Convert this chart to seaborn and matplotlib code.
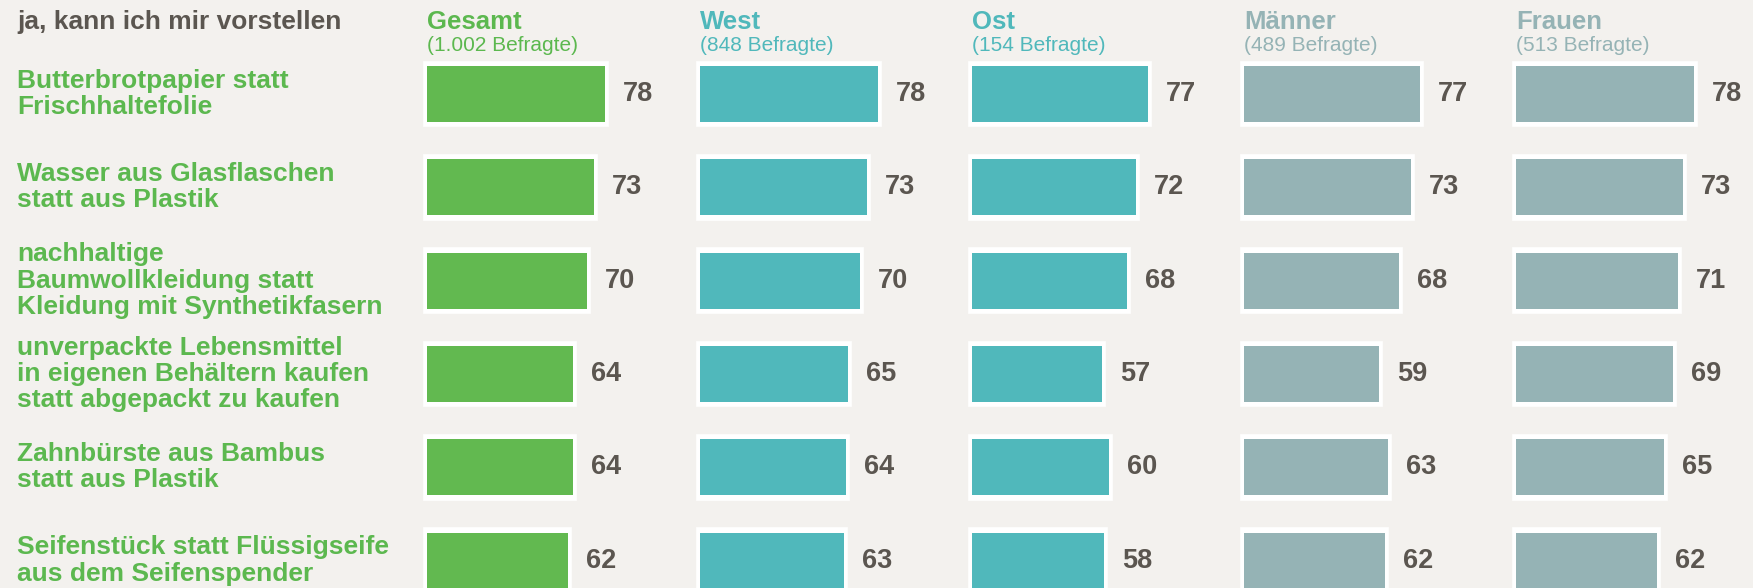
import matplotlib
matplotlib.use("Agg")
import matplotlib.pyplot as plt
import matplotlib.transforms as mtransforms
import seaborn as sns
import pandas as pd

# ---------------- data ----------------
categories = [
    "Butterbrotpapier statt\nFrischhaltefolie",
    "Wasser aus Glasflaschen\nstatt aus Plastik",
    "nachhaltige\nBaumwollkleidung statt\nKleidung mit Synthetikfasern",
    "unverpackte Lebensmittel\nin eigenen Behältern kaufen\nstatt abgepackt zu kaufen",
    "Zahnbürste aus Bambus\nstatt aus Plastik",
    "Seifenstück statt Flüssigseife\naus dem Seifenspender",
]
group_names = ["Gesamt", "West", "Ost", "Männer", "Frauen"]
group_sizes = ["(1.002 Befragte)", "(848 Befragte)", "(154 Befragte)",
               "(489 Befragte)", "(513 Befragte)"]
gesamt = [78, 73, 70, 64, 64, 62]
west = [78, 73, 70, 65, 64, 63]
ost = [77, 72, 68, 57, 60, 58]
maenner = [77, 73, 68, 59, 63, 62]
frauen = [78, 73, 71, 69, 65, 62]
header_text = "ja, kann ich mir vorstellen"

series = [gesamt, west, ost, maenner, frauen]

# ---------------- style ----------------
BG = "#f3f1ee"
GREEN = "#62b950"
LABEL_GREEN = "#5cb84f"
TEAL = "#50b8bb"
GREYTEAL = "#95b3b5"
DARK = "#5b5650"
bar_colors = [GREEN, TEAL, TEAL, GREYTEAL, GREYTEAL]
head_colors = [LABEL_GREEN, TEAL, TEAL, GREYTEAL, GREYTEAL]

sns.set_theme(style="white")
plt.rcParams["font.family"] = ["Liberation Sans", "DejaVu Sans"]

W, H = 1753, 588
fig = plt.figure(figsize=(W / 100, H / 100), dpi=100)
fig.patch.set_facecolor(BG)

PX_PER_UNIT = 2.282
ROW_PX = 93.3
ROW0_PX = 94.0
panel_left_px = [427, 700, 972, 1244, 1516]
PAD_PX = 10
AX_W_PX = 255

y_top = (0 - ROW0_PX) / ROW_PX
y_bot = (H - ROW0_PX) / ROW_PX

axes = []
for k, (vals, col) in enumerate(zip(series, bar_colors)):
    left_px = panel_left_px[k] - PAD_PX
    ax = fig.add_axes([left_px / W, 0, AX_W_PX / W, 1])
    ax.set_facecolor("none")
    df = pd.DataFrame({"cat": categories, "val": vals})
    # white frame layer
    sns.barplot(data=df, y="cat", x="val", orient="h", ax=ax, color="white",
                width=0.63, saturation=1, edgecolor="white", linewidth=5.5)
    # coloured bar layer
    sns.barplot(data=df, y="cat", x="val", orient="h", ax=ax, color=col,
                width=0.60, saturation=1, linewidth=0)
    ax.set_xlim(-PAD_PX / PX_PER_UNIT, (AX_W_PX - PAD_PX) / PX_PER_UNIT)
    ax.set_ylim(y_bot, y_top)
    for p in ax.patches:
        p.set_clip_on(False)
    for i, v in enumerate(vals):
        ax.text(v + 18 / PX_PER_UNIT, i, str(v), ha="left", va="center",
                fontsize=19.5, fontweight="bold", color=DARK)
    ax.set_xlabel("")
    ax.set_ylabel("")
    ax.set_xticks([])
    ax.set_yticks([])
    sns.despine(ax=ax, left=True, bottom=True)
    # headers
    ax.text(panel_left_px[k] / W, 1 - 29 / H, group_names[k],
            transform=fig.transFigure, ha="left", va="baseline",
            fontsize=18.5, fontweight="bold", color=head_colors[k])
    ax.text(panel_left_px[k] / W, 1 - 51 / H, group_sizes[k],
            transform=fig.transFigure, ha="left", va="baseline",
            fontsize=15, color=head_colors[k])
    axes.append(ax)

# row labels
trans = mtransforms.blended_transform_factory(fig.transFigure, axes[0].transData)
for i, lab in enumerate(categories):
    fig.text(17 / W, i, lab, transform=trans, ha="left", va="center",
             fontsize=19, fontweight="bold", color=LABEL_GREEN, linespacing=1.12)

fig.text(17 / W, 1 - 29 / H, header_text, ha="left", va="baseline",
         fontsize=19, fontweight="bold", color=DARK)

fig.savefig("out.png", dpi=100, facecolor=BG)
